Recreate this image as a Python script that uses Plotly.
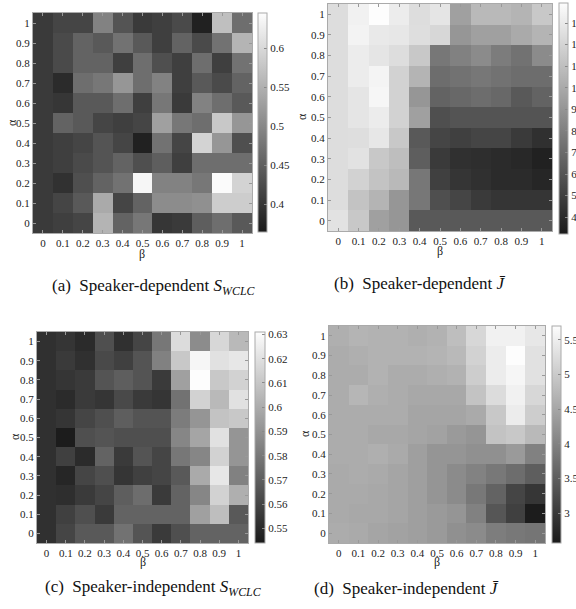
import plotly.graph_objects as go

# ---------------- data ----------------
beta = [0.0, 0.1, 0.2, 0.3, 0.4, 0.5, 0.6, 0.7, 0.8, 0.9, 1.0]
alpha = [1.0, 0.9, 0.8, 0.7, 0.6, 0.5, 0.4, 0.3, 0.2, 0.1, 0.0]
tick_text = ["0", "0.1", "0.2", "0.3", "0.4", "0.5", "0.6", "0.7", "0.8", "0.9", "1"]

# (a) Speaker-dependent S_WCLC  (rows: alpha 1 -> 0, cols: beta 0 -> 1)
sd_wclc = [
    [.405, .418, .418, .493, .436, .405, .411, .424, .374, .568, .468],
    [.405, .424, .455, .443, .474, .443, .411, .455, .424, .474, .555],
    [.405, .424, .455, .455, .411, .468, .430, .411, .468, .411, .474],
    [.405, .386, .468, .480, .518, .468, .493, .411, .443, .424, .455],
    [.405, .399, .443, .443, .468, .411, .480, .405, .493, .468, .443],
    [.405, .455, .443, .418, .411, .418, .530, .480, .468, .580, .518],
    [.405, .411, .418, .436, .418, .374, .474, .418, .593, .518, .430],
    [.405, .411, .424, .436, .455, .430, .449, .411, .468, .468, .468],
    [.405, .393, .430, .455, .474, .636, .493, .493, .480, .643, .593],
    [.405, .418, .443, .543, .418, .455, .505, .505, .511, .586, .586],
    [.405, .411, .418, .555, .455, .480, .399, .405, .449, .468, .443],
]
# (b) Speaker-dependent J-bar
sd_j = [
    [12.40, 13.35, 13.93, 13.11, 12.40, 12.78, 9.53, 10.72, 10.72, 10.49, 11.44],
    [12.40, 13.45, 12.97, 12.88, 12.49, 12.16, 9.05, 9.53, 9.53, 10.01, 10.49],
    [12.40, 13.11, 12.78, 12.40, 11.44, 7.62, 8.10, 8.57, 7.86, 7.38, 8.57],
    [12.40, 13.11, 13.50, 11.92, 10.49, 7.14, 7.38, 7.62, 7.38, 7.14, 7.14],
    [12.40, 12.78, 13.59, 11.92, 9.05, 6.66, 6.90, 7.14, 6.90, 6.18, 6.66],
    [12.40, 12.78, 13.11, 11.92, 9.53, 5.71, 5.94, 5.94, 5.94, 5.94, 5.94],
    [12.40, 12.49, 12.88, 11.44, 6.18, 5.23, 4.99, 5.23, 5.23, 4.75, 4.27],
    [12.40, 12.64, 11.44, 10.96, 6.42, 4.75, 4.27, 4.18, 4.03, 3.89, 3.55],
    [12.40, 11.92, 11.20, 10.72, 7.62, 4.99, 4.51, 4.27, 4.03, 4.03, 3.79],
    [12.40, 11.20, 10.49, 9.05, 7.62, 5.71, 5.23, 4.75, 4.51, 4.51, 4.51],
    [12.64, 11.44, 9.53, 9.05, 6.18, 6.18, 6.18, 6.18, 6.18, 6.18, 6.18],
]
# (c) Speaker-independent S_WCLC
si_wclc = [
    [.5525, .5545, .5506, .5642, .5525, .5603, .5797, .6185, .5875, .6166, .6049],
    [.5525, .5564, .5525, .5622, .5584, .5661, .5836, .6107, .6282, .6204, .6224],
    [.5525, .5545, .5564, .5661, .5700, .5661, .5564, .5952, .6309, .6107, .6146],
    [.5525, .5506, .5564, .5545, .5622, .5564, .5545, .5778, .6146, .6049, .6204],
    [.5525, .5545, .5603, .5642, .5700, .5661, .5661, .5816, .5913, .6088, .6107],
    [.5525, .5448, .5642, .5661, .5642, .5642, .5642, .5855, .5972, .6204, .5913],
    [.5525, .5584, .5506, .5719, .5564, .5661, .5603, .5797, .5855, .6146, .5913],
    [.5525, .5487, .5603, .5642, .5545, .5584, .5603, .5681, .5991, .6224, .5836],
    [.5525, .5518, .5564, .5603, .5700, .5758, .5564, .5719, .5855, .6146, .6010],
    [.5525, .5584, .5642, .5564, .5719, .5719, .5719, .5719, .5952, .6069, .5681],
    [.5525, .5603, .5681, .5681, .5778, .5661, .5564, .5642, .5719, .5719, .5719],
]
# (d) Speaker-independent J-bar
si_j = [
    [4.62, 4.69, 4.67, 4.67, 4.62, 4.67, 4.83, 5.18, 5.53, 5.53, 5.39],
    [4.58, 4.62, 4.67, 4.67, 4.67, 4.69, 4.76, 5.11, 5.46, 5.70, 5.32],
    [4.58, 4.58, 4.67, 4.58, 4.58, 4.62, 4.67, 5.04, 5.46, 5.60, 5.32],
    [4.58, 4.72, 4.62, 4.58, 4.53, 4.53, 4.53, 4.90, 5.25, 5.53, 5.18],
    [4.58, 4.58, 4.58, 4.58, 4.48, 4.48, 4.48, 4.55, 4.97, 5.46, 5.04],
    [4.58, 4.58, 4.53, 4.53, 4.48, 4.44, 4.34, 4.27, 4.90, 4.97, 4.76],
    [4.58, 4.58, 4.62, 4.55, 4.41, 4.27, 4.27, 4.20, 4.20, 4.34, 3.99],
    [4.55, 4.58, 4.55, 4.48, 4.41, 4.27, 4.13, 4.00, 3.86, 3.72, 3.51],
    [4.55, 4.55, 4.53, 4.48, 4.41, 4.27, 4.13, 3.86, 3.58, 3.16, 2.95],
    [4.55, 4.53, 4.53, 4.48, 4.41, 4.34, 4.27, 3.99, 3.40, 3.09, 2.60],
    [4.58, 4.55, 4.48, 4.44, 4.41, 4.34, 4.20, 4.13, 3.93, 3.86, 3.83],
]

# colour ranges and colourbar ticks
sd_wclc_range = [0.365, 0.645]
sd_j_range = [3.22, 13.93]
si_wclc_range = [0.544, 0.631]
si_j_range = [2.57, 5.70]
sd_wclc_ticks = [0.4, 0.45, 0.5, 0.55, 0.6]
sd_j_ticks = [4, 5, 6, 7, 8, 9, 10, 11, 12, 13]
si_wclc_ticks = [0.55, 0.56, 0.57, 0.58, 0.59, 0.6, 0.61, 0.62, 0.63]
si_j_ticks = [3, 3.5, 4, 4.5, 5, 5.5]

titles = [
    "(a)  Speaker-dependent <i>S</i><sub><i>WCLC</i></sub>",
    "(b)  Speaker-dependent <i>J\u0304</i>",
    "(c)  Speaker-independent <i>S</i><sub><i>WCLC</i></sub>",
    "(d)  Speaker-independent <i>J\u0304</i>",
]

# ---------------- layout ----------------
W, H = 576, 609
FONT = "Liberation Serif"
gray = [[0, "rgb(26,26,26)"], [1, "rgb(253,253,253)"]]

# pixel boxes: (left, right, top, bottom)
boxes = [(33, 252, 13, 233), (328, 552, 4, 231), (37, 248, 332, 543), (329, 545, 326, 543)]
cbars = [(258, 9, 13, 232), (559, 9, 3, 234), (255, 10, 332, 543), (552, 9, 326, 543)]
title_pos = [(50, 287), (332, 283), (43, 588), (312, 588)]
alpha_pos = [(12, 123), (302, 117), (15, 437), (305, 434)]
beta_pos = [(142, 254), (440, 251), (143, 562), (437, 562)]

datasets = [sd_wclc, sd_j, si_wclc, si_j]
ranges = [sd_wclc_range, sd_j_range, si_wclc_range, si_j_range]
cticks = [sd_wclc_ticks, sd_j_ticks, si_wclc_ticks, si_j_ticks]

fig = go.Figure()
layout = dict(
    width=W, height=H, margin=dict(l=0, r=0, t=0, b=0, autoexpand=False),
    paper_bgcolor="white", plot_bgcolor="white",
    font=dict(family=FONT, size=11, color="#222"),
    showlegend=False, annotations=[], hovermode=False,
)

for i in range(4):
    l, r, t, b = boxes[i]
    cx, cth, ct, cb_ = cbars[i]
    sfx = "" if i == 0 else str(i + 1)
    fig.add_trace(go.Heatmap(
        x=beta, y=alpha, z=datasets[i],
        zmin=ranges[i][0], zmax=ranges[i][1],
        colorscale=gray,
        xaxis="x" + sfx, yaxis="y" + sfx,
        colorbar=dict(
            x=cx / W, xanchor="left", xpad=0, ypad=0,
            thickness=cth, thicknessmode="pixels",
            len=(cb_ - ct) / H, lenmode="fraction",
            y=1 - (ct + cb_) / 2 / H, yanchor="middle",
            tickvals=cticks[i], ticks="inside", ticklen=3, tickcolor="#888",
            outlinecolor="#aaa", outlinewidth=1,
            tickfont=dict(family=FONT, size=11, color="#222"),
        ),
    ))
    axcommon = dict(
        showgrid=False, zeroline=False, showline=True, linecolor="#aaa", linewidth=1,
        mirror="ticks", ticks="inside", ticklen=3, tickcolor="#999",
        tickfont=dict(family=FONT, size=11, color="#222"),
        tickvals=beta, ticktext=tick_text, range=[-0.05, 1.05], fixedrange=True,
    )
    layout["xaxis" + sfx] = dict(axcommon, domain=[l / W, r / W], anchor="y" + sfx)
    layout["yaxis" + sfx] = dict(axcommon, domain=[1 - b / H, 1 - t / H], anchor="x" + sfx)
    tx, ty = title_pos[i]
    layout["annotations"].append(dict(
        text=titles[i], x=tx / W, y=1 - ty / H, xref="paper", yref="paper",
        xanchor="left", yanchor="middle", showarrow=False,
        font=dict(family=FONT, size=17, color="#111"),
    ))
    ax_, ay_ = alpha_pos[i]
    layout["annotations"].append(dict(
        text="\u03b1", x=ax_ / W, y=1 - ay_ / H, xref="paper", yref="paper",
        xanchor="center", yanchor="middle", showarrow=False, textangle=-90,
        font=dict(family=FONT, size=12, color="#222"),
    ))
    bx_, by_ = beta_pos[i]
    layout["annotations"].append(dict(
        text="\u03b2", x=bx_ / W, y=1 - by_ / H, xref="paper", yref="paper",
        xanchor="center", yanchor="middle", showarrow=False,
        font=dict(family=FONT, size=12, color="#222"),
    ))

fig.update_layout(**layout)
# remove the browser's default 8px page margin so the figure fills the window exactly
fig.write_html("out.html",
               config={"displayModeBar": False, "staticPlot": True},
               post_script="document.body.style.margin='0px';document.body.style.overflow='hidden';")
